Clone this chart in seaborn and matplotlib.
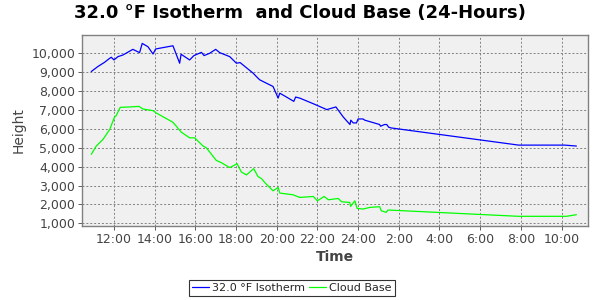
import matplotlib
matplotlib.use("Agg")
import matplotlib.pyplot as plt
import seaborn as sns
import pandas as pd
from matplotlib.ticker import FuncFormatter

# Hours since midnight of day 1 (24+ = next day)
iso_hours = [10.885, 11.21, 11.54, 11.79, 11.87, 12.0, 12.2, 12.44, 12.93, 13.26, 13.39, 13.67,
             13.92, 14.05, 14.9, 15.23, 15.3, 15.72, 15.93, 16.3, 16.43, 16.7, 17.0, 17.2,
             17.69, 18.02, 18.2, 18.84, 19.0, 19.16, 19.49, 19.82, 20.07, 20.15, 20.48, 20.84,
             20.93, 21.13, 21.8, 22.46, 22.91, 23.27, 23.6, 23.64, 23.76, 23.92, 24.0, 24.24,
             24.33, 25.06, 25.1, 25.3, 25.41, 25.5, 25.62, 31.89, 34.16, 34.73]
iso_height = [9035, 9300, 9525, 9737, 9790, 9650, 9825, 9910, 10210, 10035, 10525, 10350,
              9965, 10230, 10400, 9475, 9950, 9650, 9880, 10050, 9880, 10000, 10210, 10035,
              9825, 9475, 9510, 8950, 8770, 8600, 8420, 8245, 7630, 7890, 7685, 7456,
              7685, 7630, 7330, 7020, 7160, 6630, 6230, 6460, 6315, 6315, 6525, 6525,
              6460, 6230, 6140, 6230, 6230, 6090, 6050, 5140, 5140, 5090]

cb_hours = [10.885, 11.13, 11.46, 11.79, 12.03, 12.11, 12.31, 12.77, 13.23, 13.43, 13.92, 14.08,
            14.9, 15.31, 15.72, 15.97, 16.38, 16.54, 17.03, 17.28, 17.69, 17.85, 18.05, 18.26,
            18.51, 18.87, 19.08, 19.25, 19.41, 19.82, 20.07, 20.15, 20.8, 21.13, 21.8, 22.0,
            22.33, 22.54, 23.02, 23.19, 23.59, 23.63, 23.84, 23.95, 24.24, 24.57, 25.06, 25.14,
            25.38, 25.46, 25.54, 31.89, 34.24, 34.73]
cb_height = [4650, 5090, 5440, 5965, 6630, 6700, 7140, 7160, 7190, 7050, 6965, 6840,
             6350, 5825, 5525, 5525, 5090, 5000, 4330, 4210, 3950, 4035, 4160, 3720,
             3560, 3895, 3475, 3370, 3160, 2720, 2895, 2600, 2510, 2370, 2420, 2190,
             2420, 2245, 2315, 2140, 2105, 1895, 2190, 1790, 1755, 1840, 1880, 1665,
             1580, 1700, 1700, 1370, 1370, 1455]

series_names = ["32.0 °F Isotherm", "Cloud Base"]
x_ticks = [12, 14, 16, 18, 20, 22, 24, 26, 28, 30, 32, 34]
x_tick_labels = ["12:00", "14:00", "16:00", "18:00", "20:00", "22:00", "24:00",
                 "2:00", "4:00", "6:00", "8:00", "10:00"]
y_ticks = [1000, 2000, 3000, 4000, 5000, 6000, 7000, 8000, 9000, 10000]

df = pd.concat([
    pd.DataFrame({"Time": iso_hours, "Height": iso_height, "Series": series_names[0]}),
    pd.DataFrame({"Time": cb_hours, "Height": cb_height, "Series": series_names[1]}),
], ignore_index=True)

sns.set_theme(style="white")
plt.rcParams["font.family"] = ["DejaVu Sans"]

fig = plt.figure(figsize=(6, 3), dpi=100)
ax = fig.add_axes([82/600, 1-226/300, 506/600, 191/300])
ax.set_facecolor("#f0f0f0")

sns.lineplot(data=df, x="Time", y="Height", hue="Series", sort=False,
             palette={series_names[0]: "#0000ff", series_names[1]: "#00ff00"},
             linewidth=0.9, ax=ax, legend=True)

ax.set_xlim(10.43, 35.3)
ax.set_ylim(857, 10970)
ax.set_xticks(x_ticks)
ax.set_xticklabels(x_tick_labels)
ax.set_yticks(y_ticks)
ax.yaxis.set_major_formatter(FuncFormatter(lambda v, p: f"{int(v):,}"))

ax.grid(True, color="#808080", linestyle=(0, (2, 2)), linewidth=0.7)
for s in ax.spines.values():
    s.set_color("#808080")
    s.set_linewidth(1.0)

ax.tick_params(axis="both", labelsize=9, colors="#444444", length=3, width=0.6,
               direction="out", bottom=True, left=True, pad=2)
ax.set_xlabel("Time", fontsize=10, fontweight="bold", color="#444444", labelpad=3)
ax.set_ylabel("Height", fontsize=10, color="#444444", labelpad=4)

fig.suptitle("32.0 °F Isotherm  and Cloud Base (24-Hours)", x=0.5, y=0.985,
             fontsize=13, fontweight="bold", color="black")

handles, labels = ax.get_legend_handles_labels()
ax.get_legend().remove()
leg = fig.legend(handles, labels, loc="center", bbox_to_anchor=(292/600, 1-288/300), ncol=2,
                 frameon=True, fontsize=8, handlelength=1.5, handletextpad=0.3,
                 columnspacing=0.4, borderpad=0.3, fancybox=False)
leg.get_frame().set_edgecolor("black")
leg.get_frame().set_linewidth(0.8)

fig.savefig("out.png", dpi=100, facecolor="white")
